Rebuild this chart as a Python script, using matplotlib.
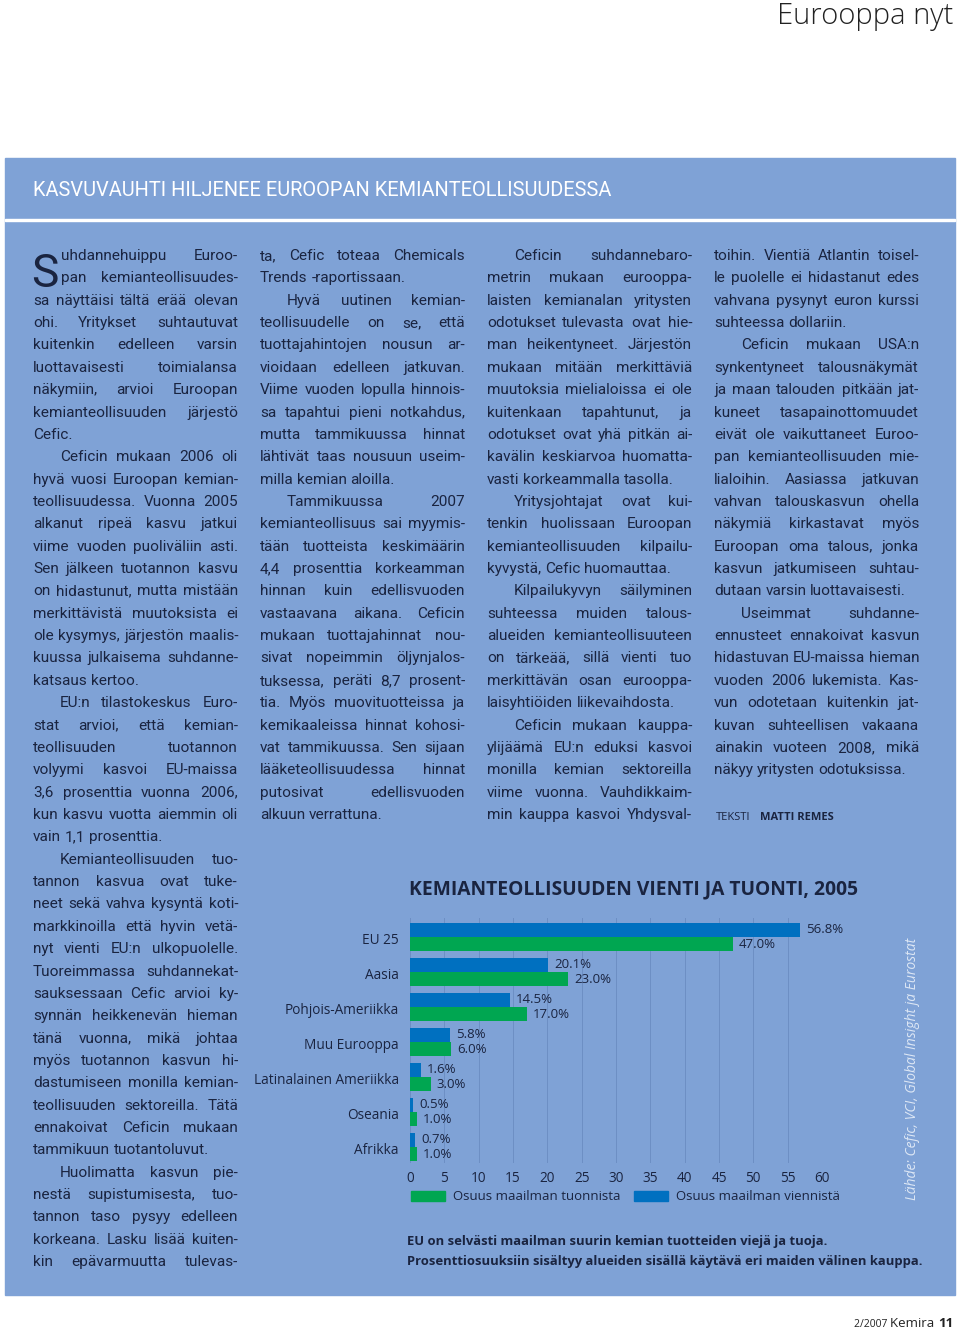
import matplotlib
matplotlib.use("Agg")
import matplotlib.pyplot as plt
from matplotlib.patches import Rectangle, Patch
import numpy as np

plt.rcParams['font.family'] = ['Open Sans', 'DejaVu Sans']

W, H = 960, 1331
PAGE_BLUE = '#7fa2d6'
NAVY = '#1a2440'
BLUE = '#0070c0'
GREEN = '#00a651'
BODY_FONT = ['Roboto', 'DejaVu Sans']

# chart data (share of world chemical trade, 2005, %)
regions = ['EU 25', 'Aasia', 'Pohjois-Ameriikka', 'Muu Eurooppa',
           'Latinalainen Ameriikka', 'Oseania', 'Afrikka']
export_share = [56.8, 20.1, 14.5, 5.8, 1.6, 0.5, 0.7]
import_share = [47.0, 23.0, 17.0, 6.0, 3.0, 1.0, 1.0]
x_ticks = [0, 5, 10, 15, 20, 25, 30, 35, 40, 45, 50, 55, 60]

title = 'KASVUVAUHTI HILJENEE EUROOPAN KEMIANTEOLLISUUDESSA'
chart_title = 'KEMIANTEOLLISUUDEN VIENTI JA TUONTI, 2005'
caption = ['EU on selvästi maailman suurin kemian tuotteiden viejä ja tuoja.',
           'Prosenttiosuuksiin sisältyy alueiden sisällä käytävä eri maiden välinen kauppa.']
source = 'Lähde: Cefic, VCI, Global Insight ja Eurostat'

# body text; '>' = indented paragraph start, '|' = last line of paragraph
col1 = ['uhdannehuippu Euroo-', 'pan kemianteollisuudes-',
        'sa näyttäisi tältä erää olevan', 'ohi. Yritykset suhtautuvat',
        'kuitenkin edelleen varsin', 'luottavaisesti toimialansa',
        'näkymiin, arvioi Euroopan', 'kemianteollisuuden järjestö', 'Cefic.|',
        '>Ceficin mukaan 2006 oli', 'hyvä vuosi Euroopan kemian-',
        'teollisuudessa. Vuonna 2005', 'alkanut ripeä kasvu jatkui',
        'viime vuoden puoliväliin asti.', 'Sen jälkeen tuotannon kasvu',
        'on hidastunut, mutta mistään', 'merkittävistä muutoksista ei',
        'ole kysymys, järjestön maalis-', 'kuussa julkaisema suhdanne-',
        'katsaus kertoo.|',
        '>EU:n tilastokeskus Euro-', 'stat arvioi, että kemian-',
        'teollisuuden tuotannon', 'volyymi kasvoi EU-maissa',
        '3,6 prosenttia vuonna 2006,', 'kun kasvu vuotta aiemmin oli',
        'vain 1,1 prosenttia.|',
        '>Kemianteollisuuden tuo-', 'tannon kasvua ovat tuke-',
        'neet sekä vahva kysyntä koti-', 'markkinoilla että hyvin vetä-',
        'nyt vienti EU:n ulkopuolelle.', 'Tuoreimmassa suhdannekat-',
        'sauksessaan Cefic arvioi ky-', 'synnän heikkenevän hieman',
        'tänä vuonna, mikä johtaa', 'myös tuotannon kasvun hi-',
        'dastumiseen monilla kemian-', 'teollisuuden sektoreilla. Tätä',
        'ennakoivat Ceficin mukaan', 'tammikuun tuotantoluvut.|',
        '>Huolimatta kasvun pie-', 'nestä supistumisesta, tuo-',
        'tannon taso pysyy edelleen', 'korkeana. Lasku lisää kuiten-',
        'kin epävarmuutta tulevas-']
col2 = ['ta, Cefic toteaa Chemicals', 'Trends -raportissaan.|',
        '>Hyvä uutinen kemian-', 'teollisuudelle on se, että',
        'tuottajahintojen nousun ar-', 'vioidaan edelleen jatkuvan.',
        'Viime vuoden lopulla hinnois-', 'sa tapahtui pieni notkahdus,',
        'mutta tammikuussa hinnat', 'lähtivät taas nousuun useim-',
        'milla kemian aloilla.|',
        '>Tammikuussa 2007', 'kemianteollisuus sai myymis-',
        'tään tuotteista keskimäärin', '4,4 prosenttia korkeamman',
        'hinnan kuin edellisvuoden', 'vastaavana aikana. Ceficin',
        'mukaan tuottajahinnat nou-', 'sivat nopeimmin öljynjalos-',
        'tuksessa, peräti 8,7 prosent-', 'tia. Myös muovituotteissa ja',
        'kemikaaleissa hinnat kohosi-', 'vat tammikuussa. Sen sijaan',
        'lääketeollisuudessa hinnat', 'putosivat edellisvuoden',
        'alkuun verrattuna.|']
col3 = ['>Ceficin suhdannebaro-', 'metrin mukaan eurooppa-',
        'laisten kemianalan yritysten', 'odotukset tulevasta ovat hie-',
        'man heikentyneet. Järjestön', 'mukaan mitään merkittäviä',
        'muutoksia mielialoissa ei ole', 'kuitenkaan tapahtunut, ja',
        'odotukset ovat yhä pitkän ai-', 'kavälin keskiarvoa huomatta-',
        'vasti korkeammalla tasolla.|',
        '>Yritysjohtajat ovat kui-', 'tenkin huolissaan Euroopan',
        'kemianteollisuuden kilpailu-', 'kyvystä, Cefic huomauttaa.|',
        '>Kilpailukyvyn säilyminen', 'suhteessa muiden talous-',
        'alueiden kemianteollisuuteen', 'on tärkeää, sillä vienti tuo',
        'merkittävän osan eurooppa-', 'laisyhtiöiden liikevaihdosta.|',
        '>Ceficin mukaan kauppa-', 'ylijäämä EU:n eduksi kasvoi',
        'monilla kemian sektoreilla', 'viime vuonna. Vauhdikkaim-',
        'min kauppa kasvoi Yhdysval-']
col4 = ['toihin. Vientiä Atlantin toisel-', 'le puolelle ei hidastanut edes',
        'vahvana pysynyt euron kurssi', 'suhteessa dollariin.|',
        '>Ceficin mukaan USA:n', 'synkentyneet talousnäkymät',
        'ja maan talouden pitkään jat-', 'kuneet tasapainottomuudet',
        'eivät ole vaikuttaneet Euroo-', 'pan kemianteollisuuden mie-',
        'lialoihin. Aasiassa jatkuvan', 'vahvan talouskasvun ohella',
        'näkymiä kirkastavat myös', 'Euroopan oma talous, jonka',
        'kasvun jatkumiseen suhtau-', 'dutaan varsin luottavaisesti.|',
        '>Useimmat suhdanne-', 'ennusteet ennakoivat kasvun',
        'hidastuvan EU-maissa hieman', 'vuoden 2006 lukemista. Kas-',
        'vun odotetaan kuitenkin jat-', 'kuvan suhteellisen vakaana',
        'ainakin vuoteen 2008, mikä', 'näkyy yritysten odotuksissa.|']
columns = [col1, col2, col3, col4]
col_x = [33, 260, 487, 714]
col_w = 205
line_y0, line_dy = 255, 22.36
drop_indent = 28

fig = plt.figure(figsize=(W / 100, H / 100), dpi=100)
fig.patch.set_facecolor('white')
page = fig.add_axes([0, 0, 1, 1])
page.set_xlim(0, W)
page.set_ylim(H, 0)
page.axis('off')
renderer = fig.canvas.get_renderer()


def text_width(s, **kw):
    t = page.text(0, 0, s, **kw)
    w = t.get_window_extent(renderer).width
    t.remove()
    return w


def fit_size(s, width, base=10, **kw):
    return base * width / text_width(s, fontsize=base, **kw)


def line_indent(ci, li, line):
    if line.startswith('>'):
        return 27
    if ci == 0 and li < 2:
        return drop_indent
    return 0


# page background
page.add_patch(Rectangle((5, 158), 950, 1137, color=PAGE_BLUE, zorder=0))
page.add_patch(Rectangle((5, 218.5), 950, 2.5, color='white', zorder=1))
page.text(953, 24, 'Eurooppa nyt', fontsize=21, color='#222222',
          ha='right', va='baseline', fontweight='light')
page.text(33, 190, title, color='white', va='center', family=BODY_FONT,
          fontsize=fit_size(title, 578, family=BODY_FONT))

# footer
fx = 953
for s, fs, fw in [('11', 9.5, 'bold'), ('Kemira ', 9.5, 'normal'),
                  ('2/2007 ', 7.5, 'normal')]:
    page.text(fx, 1327, s, fontsize=fs, fontweight=fw, color='#222222',
              ha='right', va='baseline')
    fx -= text_width(s, fontsize=fs, fontweight=fw)

# body text, justified word by word
base = 10
min_gap = 3.0
fits = []
for ci, col in enumerate(columns):
    for li, line in enumerate(col):
        if line.endswith('|'):
            continue
        words = line.lstrip('>').split()
        ww = sum(text_width(w, fontsize=base, family=BODY_FONT) for w in words)
        avail = col_w - line_indent(ci, li, line)
        fits.append(base * (avail - min_gap * (len(words) - 1)) / ww)
body_fs = min(min(fits), 11.5)
space_w = (text_width('a a', fontsize=body_fs, family=BODY_FONT)
           - text_width('aa', fontsize=body_fs, family=BODY_FONT))

# drop cap
page.text(31, 287, 'S', fontsize=33, color=NAVY, va='baseline',
          family=BODY_FONT)

for ci, col in enumerate(columns):
    for li, line in enumerate(col):
        y = line_y0 + li * line_dy + 5
        indent = line_indent(ci, li, line)
        last = line.endswith('|')
        words = line.strip('>|').split()
        widths = [text_width(w, fontsize=body_fs, family=BODY_FONT) for w in words]
        if last or len(words) == 1:
            gap = space_w
        else:
            gap = (col_w - indent - sum(widths)) / (len(words) - 1)
        x = col_x[ci] + indent
        for w, ww in zip(words, widths):
            page.text(x, y, w, fontsize=body_fs, color=NAVY, va='baseline',
                      family=BODY_FONT)
            x += ww + gap

page.text(716, 820, 'TEKSTI', fontsize=8, color=NAVY, va='baseline')
page.text(760, 820, 'MATTI REMES', fontsize=8, color=NAVY, va='baseline',
          fontweight='bold')

# chart
page.text(409, 889, chart_title, color=NAVY, fontweight='bold', va='center',
          fontsize=fit_size(chart_title, 448, fontweight='bold'))
for i, line in enumerate(caption):
    page.text(407, 1242 + i * 20, line, color=NAVY, fontweight='bold',
              va='center', fontsize=fit_size(line, [420, 515][i], fontweight='bold'))
page.text(912, 1200, source, rotation=90, style='italic', color='#dde7f5',
          ha='center', va='bottom', fontsize=fit_size(source, 262, style='italic'))

ax = fig.add_axes([410 / W, 1 - 1163 / H, 412 / W, (1163 - 918) / H])
ax.patch.set_alpha(0)
y = np.arange(len(regions))
bh = 13.5 / 35
ax.barh(y - 0.2, export_share, height=bh, color=BLUE, zorder=3,
        label='Osuus maailman viennistä')
ax.barh(y + 0.2, import_share, height=bh, color=GREEN, zorder=3,
        label='Osuus maailman tuonnista')
for i in range(len(regions)):
    ax.text(export_share[i] + 0.9, y[i] - 0.22, f'{export_share[i]:.1f}%',
            va='center', fontsize=9.5, color=NAVY)
    ax.text(import_share[i] + 0.9, y[i] + 0.2, f'{import_share[i]:.1f}%',
            va='center', fontsize=9.5, color=NAVY)
ax.set_xlim(0, 60)
ax.set_ylim(6.457, -0.543)
ax.set_xticks(x_ticks)
ax.set_yticks(y + 0.05)
ax.set_yticklabels(regions)
ax.tick_params(length=0, labelsize=9.8, labelcolor=NAVY)
ax.tick_params(axis='y', pad=8)
ax.tick_params(axis='x', pad=6)
ax.grid(axis='x', color='#6d8fc4', linewidth=0.7, zorder=0)
for sp in ax.spines.values():
    sp.set_visible(False)
handles = [Patch(color=GREEN, label='Osuus maailman tuonnista'),
           Patch(color=BLUE, label='Osuus maailman viennistä')]
ax.legend(handles=handles, ncol=2, loc='upper left', frameon=False,
          bbox_to_anchor=(-0.01, -0.09), fontsize=9.5, labelcolor=NAVY,
          handlelength=2.6, handleheight=0.8, columnspacing=1.0,
          handletextpad=0.6, borderaxespad=0)

fig.savefig('out.png', dpi=100, facecolor='white')
